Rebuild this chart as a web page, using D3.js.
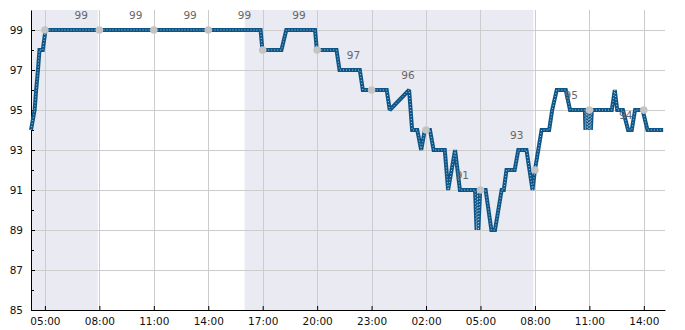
<!DOCTYPE html>
<html>
<head>
<meta charset="utf-8">
<script src="https://cdn.jsdelivr.net/npm/d3@7"></script>
<style>
  html, body { margin: 0; padding: 0; background: #fff; }
  svg { display: block; }
  text { font-family: "DejaVu Sans", sans-serif; }
</style>
</head>
<body>
<svg id="chart" width="685" height="330"></svg>
<script>
// ---------- data ----------
const seriesTimes = [
  "2024-01-01 04:14","2024-01-01 04:26","2024-01-01 04:31","2024-01-01 04:37","2024-01-01 04:42",
  "2024-01-01 04:53","2024-01-01 05:02","2024-01-01 16:53","2024-01-01 16:59","2024-01-01 18:02",
  "2024-01-01 18:18","2024-01-01 19:53","2024-01-01 19:59","2024-01-01 21:04","2024-01-01 21:14",
  "2024-01-01 22:21","2024-01-01 22:31","2024-01-01 23:50","2024-01-02 00:00","2024-01-02 01:04",
  "2024-01-02 01:14","2024-01-02 01:31","2024-01-02 01:44","2024-01-02 01:56","2024-01-02 02:13",
  "2024-01-02 02:25","2024-01-02 03:02","2024-01-02 03:13","2024-01-02 03:36","2024-01-02 03:52",
  "2024-01-02 04:42","2024-01-02 04:47","2024-01-02 04:50","2024-01-02 04:53","2024-01-02 04:59",
  "2024-01-02 05:17","2024-01-02 05:36","2024-01-02 05:48","2024-01-02 06:10","2024-01-02 06:17",
  "2024-01-02 06:26","2024-01-02 06:53","2024-01-02 07:05","2024-01-02 07:32","2024-01-02 07:52",
  "2024-01-02 08:00","2024-01-02 08:22","2024-01-02 08:47","2024-01-02 08:57","2024-01-02 09:12",
  "2024-01-02 09:42","2024-01-02 09:56","2024-01-02 10:45","2024-01-02 10:47","2024-01-02 10:50",
  "2024-01-02 10:53","2024-01-02 10:56","2024-01-02 10:59","2024-01-02 11:02","2024-01-02 11:05",
  "2024-01-02 11:08","2024-01-02 11:13","2024-01-02 12:14","2024-01-02 12:24","2024-01-02 12:32",
  "2024-01-02 12:51","2024-01-02 13:08","2024-01-02 13:20","2024-01-02 13:31","2024-01-02 13:56",
  "2024-01-02 14:12","2024-01-02 15:04"
];
const seriesValues = [
  94,95,96,97,98,
  98,99,99,98,98,
  99,99,98,98,97,
  97,96,96,95,96,
  94,94,93,94,94,
  93,93,91,93,91,
  91,89,91,89,91,
  91,89,89,91,91,
  92,92,93,93,91,
  92,94,94,95,96,
  96,95,95,94,95,
  94,95,94,95,94,
  95,95,95,96,95,
  95,94,94,95,95,
  94,94
];

const markerTimes = ["2024-01-01 05:00","2024-01-01 08:00","2024-01-01 11:00","2024-01-01 14:00",
  "2024-01-01 17:00","2024-01-01 20:00","2024-01-01 23:00","2024-01-02 02:00",
  "2024-01-02 05:00","2024-01-02 08:00","2024-01-02 11:00","2024-01-02 14:00"];
const markerValues = [99,99,99,99,98,98,96,94,91,92,95,95];

const labelTimes = ["2024-01-01 07:00","2024-01-01 10:00","2024-01-01 13:00","2024-01-01 16:00",
  "2024-01-01 19:00","2024-01-01 22:00","2024-01-02 01:00","2024-01-02 04:00",
  "2024-01-02 07:00","2024-01-02 10:00","2024-01-02 13:00"];
const labelValues = [99,99,99,99,99,97,96,91,93,95,94];

const nightStarts = ["2024-01-01 04:14","2024-01-01 16:00"];
const nightEnds   = ["2024-01-01 07:55","2024-01-02 07:55"];

const xDomain = ["2024-01-01 04:14","2024-01-02 15:10"];
const xTickTimes = ["2024-01-01 05:00","2024-01-01 08:00","2024-01-01 11:00","2024-01-01 14:00",
  "2024-01-01 17:00","2024-01-01 20:00","2024-01-01 23:00","2024-01-02 02:00",
  "2024-01-02 05:00","2024-01-02 08:00","2024-01-02 11:00","2024-01-02 14:00"];
const yDomain = [85, 100];
const yMajorTicks = [85,87,89,91,93,95,97,99];
const yMinorTicks = [86,88,90,92,94,96,98];

// ---------- drawing ----------
const parse = d3.timeParse("%Y-%m-%d %H:%M");
const fmt = d3.timeFormat("%H:%M");
const margin = {left: 31, right: 20, top: 10, bottom: 20};
const W = 685, H = 330;
const svg = d3.select("#chart");

const x = d3.scaleTime().domain(xDomain.map(parse)).range([margin.left, W - margin.right]);
const y = d3.scaleLinear().domain(yDomain).range([H - margin.bottom, margin.top]);

// night shading
svg.append("g").selectAll("rect").data(nightStarts.map((s,i)=>[parse(s), parse(nightEnds[i])]))
  .join("rect")
  .attr("x", d => x(d[0])).attr("width", d => x(d[1]) - x(d[0]))
  .attr("y", y(yDomain[1])).attr("height", y(yDomain[0]) - y(yDomain[1]))
  .attr("fill", "#eaeaf2");

// grid
const grid = svg.append("g").attr("stroke", "#cccccc").attr("stroke-width", 1);
grid.selectAll("line.h").data(yMajorTicks.filter(v => v !== yDomain[0])).join("line")
  .attr("x1", x.range()[0]).attr("x2", x.range()[1])
  .attr("y1", d => Math.round(y(d)) + 0.5).attr("y2", d => Math.round(y(d)) + 0.5);
grid.selectAll("line.v").data(xTickTimes.map(parse)).join("line")
  .attr("y1", y.range()[1]).attr("y2", y.range()[0])
  .attr("x1", d => Math.round(x(d)) + 0.5).attr("x2", d => Math.round(x(d)) + 0.5);

// axes
const xAxis = d3.axisBottom(x).tickValues(xTickTimes.map(parse)).tickFormat(fmt)
  .tickSizeInner(-4).tickSizeOuter(0).tickPadding(8);
const gx = svg.append("g").attr("transform", `translate(0,${y(yDomain[0])})`).call(xAxis);
gx.select(".domain").attr("stroke", "#000");
gx.selectAll(".tick line").attr("stroke", "#000");
gx.selectAll("text").attr("font-size", 10.5).attr("fill", "#111").attr("font-family", "DejaVu Sans");

const yAxis = d3.axisLeft(y).tickValues(yMajorTicks).tickFormat(d3.format("d"))
  .tickSizeInner(-4).tickSizeOuter(0).tickPadding(8);
const gy = svg.append("g").attr("transform", `translate(${x.range()[0]},0)`).call(yAxis);
gy.select(".domain").attr("stroke", "#000");
gy.selectAll(".tick line").attr("stroke", "#000");
gy.selectAll("text").attr("font-size", 10.5).attr("fill", "#111").attr("font-family", "DejaVu Sans");
gy.append("g").selectAll("line").data(yMinorTicks).join("line")
  .attr("x1", 0).attr("x2", 3)
  .attr("y1", d => Math.round(y(d)) + 0.5).attr("y2", d => Math.round(y(d)) + 0.5)
  .attr("stroke", "#000");

// series line
const pts = seriesTimes.map((t,i) => ({t: parse(t), v: seriesValues[i]}));
const line = d3.line().x(d => x(d.t)).y(d => y(d.v));
svg.append("path").datum(pts).attr("d", line)
  .attr("fill", "none").attr("stroke", "#0d5587").attr("stroke-width", 4)
  .attr("stroke-linejoin", "miter").attr("stroke-miterlimit", 2);
svg.append("path").datum(pts).attr("d", line)
  .attr("fill", "none").attr("stroke", "#ffffff").attr("stroke-width", 0.9)
  .attr("stroke-dasharray", "1,2").attr("opacity", 0.75);

// markers
svg.append("g").selectAll("circle").data(markerTimes.map((t,i)=>({t: parse(t), v: markerValues[i]})))
  .join("circle")
  .attr("cx", d => x(d.t)).attr("cy", d => y(d.v)).attr("r", 3.8)
  .attr("fill", "#c4c4c4");

// labels
svg.append("g").selectAll("text").data(labelTimes.map((t,i)=>({t: parse(t), v: labelValues[i]})))
  .join("text")
  .attr("x", d => x(d.t)).attr("y", d => y(d.v) - 15)
  .attr("text-anchor", "middle").attr("dominant-baseline", "central")
  .attr("font-size", 10.5).attr("fill", "#666")
  .text(d => d.v);
</script>
</body>
</html>
